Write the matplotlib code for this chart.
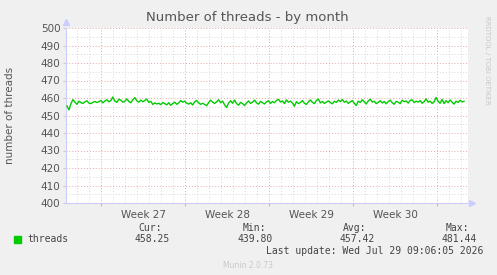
import numpy as np
import matplotlib
matplotlib.use("Agg")
import matplotlib.pyplot as plt

# threads, sampled every ~4 hours over the month
threads = [
    455.5, 453.2, 456.8, 459.1, 457.6, 456.4, 458.2, 457.3, 456.9, 457.8, 458.4, 457.1, 456.8, 457.5, 458.0, 457.4, 457.9, 458.6, 457.2, 458.3,
    459.0, 457.8, 458.5, 460.6, 458.2, 457.5, 459.3, 458.8, 457.6, 458.1, 459.5, 458.0, 457.3, 458.9, 460.2, 458.4, 457.6, 458.8, 457.9, 458.5,
    459.4, 457.5, 458.1, 456.3, 457.2, 456.6, 457.0, 456.2, 457.4, 456.8, 456.1, 457.3, 455.8, 456.9, 457.6, 456.4, 457.2, 458.5, 457.6, 458.2,
    457.1, 456.5, 457.3, 456.0, 457.8, 458.6, 457.2, 456.4, 457.0, 456.3, 455.6, 457.4, 458.8, 457.6, 456.9, 457.8, 459.0, 457.3, 458.2, 456.1,
    454.6, 457.2, 458.4, 457.0, 458.9, 456.8, 455.9, 457.5, 456.8, 455.7, 457.2, 458.3, 456.9, 457.6, 458.8, 457.2, 456.5, 458.1, 457.3, 456.6,
    457.8, 458.4, 456.9, 458.0, 457.3, 458.6, 459.2, 457.7, 458.3, 456.8, 458.9, 457.6, 458.2, 457.1, 455.3, 457.9, 456.8, 457.4, 458.5, 457.0,
    456.3, 457.8, 458.9, 457.5, 456.8, 458.6, 459.4, 457.2, 458.0, 456.9, 457.7, 458.3, 457.4, 456.7, 458.1, 457.5, 458.8, 457.9, 459.1, 457.6,
    458.2, 456.9, 457.8, 458.5, 457.0, 455.7, 458.2, 457.4, 459.0, 457.8, 456.6, 458.3, 459.3, 457.7, 458.1, 456.8, 457.5, 458.4, 457.2, 458.0,
    456.7, 457.9, 458.8, 457.3, 456.4, 458.1, 457.6, 456.8, 458.7, 457.9, 458.3, 457.1, 458.6, 459.0, 457.4, 458.2, 457.7, 458.5, 457.0, 457.9,
    459.5, 457.6, 458.2, 456.9, 457.8, 460.3, 458.1, 457.0, 459.2, 456.8, 458.5, 457.3, 458.9, 457.6, 456.5, 458.2, 457.4, 458.7, 457.8, 458.1,
]
week_labels = ["Week 27", "Week 28", "Week 29", "Week 30"]
stat_names = ["Cur:", "Min:", "Avg:", "Max:"]
stat_values = ["458.25", "439.80", "457.42", "481.44"]

# time axis in days from the left edge of the graph
t_start, t_end = 0.0, 33.5
t_first, t_last = 0.08, 33.17
week_starts = [2.92, 9.92, 16.92, 23.92, 30.92]
t = np.linspace(t_first, t_last, len(threads))

fig = plt.figure(figsize=(4.97, 2.75), dpi=100, facecolor="#f0f0f0")
ax = fig.add_axes([66 / 497, 72 / 275, 402 / 497, 175 / 275])
ax.set_facecolor("white")

ax.set_xlim(t_start, t_end)
ax.set_ylim(400, 500)

# grid
dot = (0, (1, 2))
for d in np.arange(week_starts[0] - 2, t_end, 1.0):
    if any(abs(d - w) < 0.01 for w in week_starts):
        continue
    ax.axvline(d, color="#d8d8d8", lw=0.7, ls=dot, zorder=1)
for w in week_starts:
    ax.axvline(w, color="#e6a8a8", lw=0.7, ls=dot, zorder=1)
for y in range(405, 500, 10):
    ax.axhline(y, color="#d8d8d8", lw=0.7, ls=dot, zorder=1)
for y in range(410, 501, 10):
    ax.axhline(y, color="#e6a8a8", lw=0.7, ls=dot, zorder=1)

ax.plot(t, threads, color="#00cc00", lw=1.0, zorder=3)

for s in ["top", "right"]:
    ax.spines[s].set_visible(False)
for s in ["left", "bottom"]:
    ax.spines[s].set_color("#ccccff")
    ax.spines[s].set_linewidth(0.8)
ax.plot([0], [1.035], marker="^", color="#ccccff", ms=5, transform=ax.transAxes, clip_on=False)
ax.plot([1.01], [0], marker=">", color="#ccccff", ms=5, transform=ax.transAxes, clip_on=False)

ax.set_yticks(range(400, 501, 10))
ax.tick_params(axis="y", length=2, color="#cccccc", labelsize=7.5, labelcolor="#555555", pad=2)
ax.set_xticks(week_starts, minor=False)
ax.set_xticklabels([])
ax.tick_params(axis="x", length=2, color="#e6a8a8")
for i, lab in enumerate(week_labels):
    mid = (week_starts[i] + week_starts[i + 1]) / 2
    ax.text(mid, -0.04, lab, transform=ax.get_xaxis_transform(), ha="center", va="top",
            fontsize=7.5, color="#555555")

fig.text(247 / 497, 1 - 18 / 275, "Number of threads - by month", ha="center", va="center",
         fontsize=9.5, color="#555555")
fig.text(10 / 497, 1 - 115 / 275, "number of threads", rotation=90, ha="center", va="center",
         fontsize=7.5, color="#555555")
fig.text(487 / 497, 1 - 60 / 275, "RRDTOOL / TOBI OETIKER", rotation=270, ha="center", va="center",
         fontsize=5, color="#c8c8c8")

mono = "DejaVu Sans Mono"
fig.patches.append(plt.Rectangle((14 / 497, 1 - 243 / 275), 7 / 497, 7 / 275,
                                 transform=fig.transFigure, color="#00cc00", figure=fig))
fig.text(27 / 497, 1 - 239 / 275, "threads", family=mono, fontsize=7, color="#444444", va="center")
name_right = [162, 266, 366, 469]
val_right = [170, 273, 375, 477]
for nm, v, nr, vr in zip(stat_names, stat_values, name_right, val_right):
    fig.text(nr / 497, 1 - 228 / 275, nm, family=mono, fontsize=7, color="#444444", ha="right", va="center")
    fig.text(vr / 497, 1 - 239 / 275, v, family=mono, fontsize=7, color="#444444", ha="right", va="center")
fig.text(483 / 497, 1 - 251 / 275, "Last update: Wed Jul 29 09:06:05 2026", family=mono, fontsize=7,
         color="#444444", ha="right", va="center")
fig.text(248 / 497, 1 - 265 / 275, "Munin 2.0.73", fontsize=5.5, color="#c8c8c8", ha="center", va="center")

fig.savefig("out.png", dpi=100, facecolor=fig.get_facecolor())
